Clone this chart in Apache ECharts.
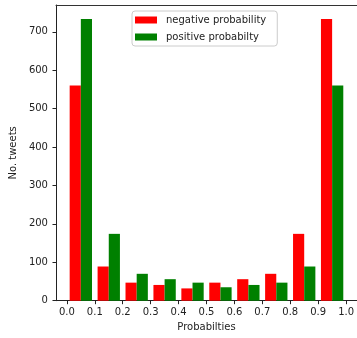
<!DOCTYPE html>
<html>
<head>
<meta charset="utf-8">
<script src="https://cdn.jsdelivr.net/npm/echarts@6/dist/echarts.min.js"></script>
<style>
  html, body { margin: 0; padding: 0; background: #fff; }
  #chart { width: 357px; height: 338px; }
</style>
</head>
<body>
<div id="chart"></div>
<script>
// Histogram bins (left edges) and counts per bin
const binStarts = [0.0, 0.1, 0.2, 0.3, 0.4, 0.5, 0.6, 0.7, 0.8, 0.9];
const binWidth = 0.1;
const negativeCounts = [560, 89, 47, 41, 32, 47, 56, 70, 174, 733];
const positiveCounts = [733, 174, 70, 56, 47, 35, 41, 47, 89, 560];
const xTickValues = [0.0, 0.1, 0.2, 0.3, 0.4, 0.5, 0.6, 0.7, 0.8, 0.9, 1.0];
const yTickValues = [0, 100, 200, 300, 400, 500, 600, 700];

const FONT = 'DejaVu Sans';
const TEXT = '#222';
const X_MIN = -0.039, X_MAX = 1.039;

// Two bars share each bin: 80% of the bin width, split evenly
function histSeries(name, color, counts, slot) {
  const data = binStarts.map((b, i) => [b, counts[i]]);
  return {
    name: name,
    type: 'custom',
    itemStyle: { color: color },
    renderItem: function (params, api) {
      const start = api.value(0);
      const x0 = start + binWidth * (0.1 + 0.4 * slot);
      const x1 = x0 + binWidth * 0.4;
      const topLeft = api.coord([x0, api.value(1)]);
      const bottomRight = api.coord([x1, 0]);
      return {
        type: 'rect',
        shape: {
          x: topLeft[0],
          y: topLeft[1],
          width: bottomRight[0] - topLeft[0],
          height: bottomRight[1] - topLeft[1]
        },
        style: { fill: color }
      };
    },
    encode: { x: 0, y: 1 },
    data: data
  };
}

const chart = echarts.init(document.getElementById('chart'), null, { renderer: 'canvas' });
chart.setOption({
  animation: false,
  backgroundColor: '#fff',
  grid: {
    left: 55, top: 5, width: 302.6, height: 295.7
  },
  legend: {
    orient: 'vertical',
    left: 132, top: 11,
    padding: [3, 11, 3, 3],
    itemWidth: 22, itemHeight: 7, itemGap: 5,
    icon: 'rect',
    backgroundColor: '#fff',
    borderColor: '#ccc', borderWidth: 1, borderRadius: 3,
    textStyle: { fontFamily: FONT, fontSize: 10, color: TEXT, lineHeight: 12, padding: [0, 0, 0, 4] },
    data: ['negative probability', 'positive probabilty']
  },
  xAxis: [{
    type: 'value',
    min: X_MIN, max: X_MAX,
    name: 'Probabilties',
    nameLocation: 'middle',
    nameGap: 21,
    nameTextStyle: { fontFamily: FONT, fontSize: 10, color: TEXT },
    splitLine: { show: false },
    axisLine: { onZero: false, lineStyle: { color: '#222', width: 1 } },
    axisTick: { show: true, length: 3.5, lineStyle: { color: '#222' }, customValues: xTickValues },
    axisLabel: {
      fontFamily: FONT, fontSize: 10, color: TEXT, margin: 7,
      customValues: xTickValues,
      formatter: v => v.toFixed(1)
    }
  }, {
    // top spine only
    type: 'value',
    position: 'top',
    min: X_MIN, max: X_MAX,
    splitLine: { show: false },
    axisLine: { onZero: false, lineStyle: { color: '#333', width: 1 } },
    axisTick: { show: false },
    axisLabel: { show: false }
  }],
  yAxis: {
    type: 'value',
    min: 0, max: 769.7,
    name: 'No. tweets',
    nameLocation: 'middle',
    nameGap: 36,
    nameTextStyle: { fontFamily: FONT, fontSize: 10, color: TEXT },
    splitLine: { show: false },
    axisLine: { show: true, onZero: false, lineStyle: { color: '#222', width: 1 } },
    axisTick: { show: true, length: 3.5, lineStyle: { color: '#222' }, customValues: yTickValues },
    axisLabel: {
      fontFamily: FONT, fontSize: 10, color: TEXT, margin: 8,
      customValues: yTickValues
    }
  },
  series: [
    histSeries('negative probability', '#ff0000', negativeCounts, 0),
    histSeries('positive probabilty', '#008000', positiveCounts, 1)
  ]
});
</script>
</body>
</html>
